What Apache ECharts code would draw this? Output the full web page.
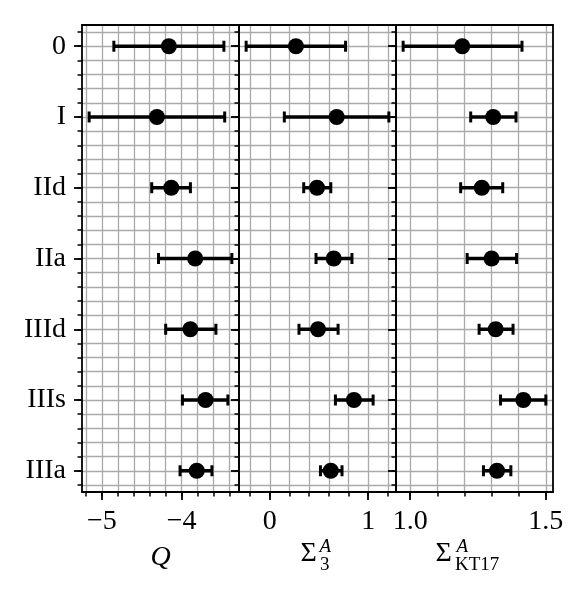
<!DOCTYPE html>
<html><head><meta charset="utf-8">
<script src="https://cdn.jsdelivr.net/npm/echarts@6/dist/echarts.min.js"></script>
<style>html,body{margin:0;padding:0;background:#fff}#c{width:582px;height:594px}</style>
</head><body><div id="c"></div>
<script>
// ---- data ----
const categories = ['0', 'I', 'IId', 'IIa', 'IIId', 'IIIs', 'IIIa'];

const qValue = [-4.16, -4.31, -4.13, -3.83, -3.89, -3.70, -3.81];
const qLow   = [-4.85, -5.16, -4.375, -4.29, -4.20, -3.99, -4.02];
const qHigh  = [-3.47, -3.46, -3.89, -3.37, -3.57, -3.42, -3.62];

const s3Value = [0.266, 0.68, 0.48, 0.65, 0.49, 0.855, 0.62];
const s3Low   = [-0.24, 0.148, 0.345, 0.47, 0.297, 0.667, 0.515];
const s3High  = [0.77, 1.21, 0.62, 0.835, 0.694, 1.05, 0.734];

const kValue = [1.192, 1.306, 1.264, 1.30, 1.315, 1.417, 1.32];
const kLow   = [0.974, 1.223, 1.186, 1.21, 1.254, 1.333, 1.27];
const kHigh  = [1.412, 1.39, 1.341, 1.392, 1.379, 1.50, 1.371];

const qTicks = [-5, -4];      const qTickLabels = ['\u22125', '\u22124'];
const s3Ticks = [0, 1];       const s3TickLabels = ['0', '1'];
const kTicks = [1.0, 1.5];    const kTickLabels = ['1.0', '1.5'];
const qMinorStep = 0.2, s3MinorStep = 0.2, kMinorStep = 0.1, yMinorStep = 0.2;

// ---- helpers ----
function padRange(lo, hi) {
  const mn = Math.min(...lo), mx = Math.max(...hi);
  const m = (mx - mn) * 0.05;
  return [mn - m, mx + m];
}
function steps(a, b, step) {
  const out = [];
  for (let k = Math.ceil(a / step - 1e-9); k <= Math.floor(b / step + 1e-9); k++) {
    out.push(Math.round(k * step * 1e6) / 1e6);
  }
  return out;
}

const FONT = '"Liberation Serif", "Times New Roman", serif';
const GRID_TOP = 25, GRID_H = 467, GRID_W = 157;
const lefts = [82, 239, 396];
const yMin = -0.3, yMax = categories.length - 1 + 0.3;
const yMajor = categories.map((c, i) => i);
const yMinor = steps(yMin, yMax, yMinorStep);

const panels = [
  {v: qValue, lo: qLow, hi: qHigh, ticks: qTicks, labels: qTickLabels, minor: qMinorStep},
  {v: s3Value, lo: s3Low, hi: s3High, ticks: s3Ticks, labels: s3TickLabels, minor: s3MinorStep},
  {v: kValue, lo: kLow, hi: kHigh, ticks: kTicks, labels: kTickLabels, minor: kMinorStep}
];

const grids = [], xAxes = [], yAxes = [], series = [];
const black = '#000';
const gridColor = '#aaaaaa';
panels.forEach((p, g) => {
  grids.push({left: lefts[g], top: GRID_TOP, width: GRID_W, height: GRID_H, show: false, containLabel: false});
  const [xmin, xmax] = padRange(p.lo, p.hi);
  const xMinorVals = steps(xmin, xmax, p.minor);
  const xMainIdx = xAxes.length;
  xAxes.push({
    gridIndex: g, type: 'value', min: xmin, max: xmax, position: 'bottom', z: 4,
    axisLine: {show: true, onZero: false, lineStyle: {color: black, width: 1.8}},
    axisTick: {show: true, customValues: p.ticks, length: 8, inside: false, lineStyle: {color: black, width: 1.8}},
    axisLabel: {show: true, customValues: p.ticks, margin: 16, color: black, fontFamily: FONT, fontSize: 28,
      formatter: v => { const i = p.ticks.findIndex(t => Math.abs(t - v) < 1e-6); return i >= 0 ? p.labels[i] : ''; }},
    splitLine: {show: false}
  });
  xAxes.push({
    gridIndex: g, type: 'value', min: xmin, max: xmax, position: 'bottom', z: 1,
    axisLine: {show: false, onZero: false},
    axisTick: {show: true, customValues: xMinorVals, length: 4.5, lineStyle: {color: black, width: 1.5}},
    axisLabel: {show: false},
    splitLine: {show: true, lineStyle: {color: gridColor, width: 1.3}}
  });
  xAxes.push({
    gridIndex: g, type: 'value', min: xmin, max: xmax, position: 'top', z: 4,
    axisLine: {show: true, onZero: false, lineStyle: {color: black, width: 1.8}},
    axisTick: {show: false}, axisLabel: {show: false}, splitLine: {show: false}
  });
  const yMainIdx = yAxes.length;
  yAxes.push({
    gridIndex: g, type: 'value', min: yMin, max: yMax, inverse: true, position: 'left', z: 4,
    axisLine: {show: true, onZero: false, lineStyle: {color: black, width: 1.8}},
    axisTick: {show: true, customValues: yMajor, length: 8, lineStyle: {color: black, width: 1.8}},
    axisLabel: {show: g === 0, customValues: yMajor, margin: 16, color: black, fontFamily: FONT, fontSize: 28,
      formatter: v => categories[Math.round(v)]},
    splitLine: {show: false}
  });
  yAxes.push({
    gridIndex: g, type: 'value', min: yMin, max: yMax, inverse: true, position: 'left', z: 1,
    axisLine: {show: false, onZero: false},
    axisTick: {show: true, customValues: yMinor, length: 4.5, lineStyle: {color: black, width: 1.5}},
    axisLabel: {show: false},
    splitLine: {show: true, lineStyle: {color: gridColor, width: 1.3}}
  });
  yAxes.push({
    gridIndex: g, type: 'value', min: yMin, max: yMax, inverse: true, position: 'right', z: 4,
    axisLine: {show: true, onZero: false, lineStyle: {color: black, width: 1.8}},
    axisTick: {show: false}, axisLabel: {show: false}, splitLine: {show: false}
  });

  series.push({
    type: 'custom', xAxisIndex: xMainIdx, yAxisIndex: yMainIdx, z: 5,
    data: categories.map((c, i) => [i, p.lo[i], p.hi[i]]),
    encode: {x: [1, 2], y: 0},
    renderItem: (params, api) => {
      const y = api.value(0);
      const a = api.coord([api.value(1), y]);
      const b = api.coord([api.value(2), y]);
      const h = 5.5;
      return {type: 'group', children: [
        {type: 'line', shape: {x1: a[0], y1: a[1], x2: b[0], y2: b[1]}, style: {stroke: black, lineWidth: 3.5}},
        {type: 'line', shape: {x1: a[0], y1: a[1] - h, x2: a[0], y2: a[1] + h}, style: {stroke: black, lineWidth: 3}},
        {type: 'line', shape: {x1: b[0], y1: b[1] - h, x2: b[0], y2: b[1] + h}, style: {stroke: black, lineWidth: 3}}
      ]};
    }
  });
  series.push({
    type: 'scatter', xAxisIndex: xMainIdx, yAxisIndex: yMainIdx, z: 6,
    symbol: 'circle', symbolSize: 16, itemStyle: {color: black, opacity: 1},
    data: categories.map((c, i) => [p.v[i], i])
  });
});

const cx = lefts.map(l => l + GRID_W / 2);
const nameY = 553.5;
const graphic = [
  {type: 'text', x: cx[0], y: 558, style: {text: 'Q', font: 'italic 28px ' + FONT, fill: black, align: 'center', verticalAlign: 'middle'}},
  {type: 'text', x: cx[1] - 17, y: nameY, style: {text: '\u03A3', font: '28px ' + FONT, fill: black, align: 'left', verticalAlign: 'middle'}},
  {type: 'text', x: cx[1] + 2, y: 546.5, style: {text: 'A', font: 'italic 19px ' + FONT, fill: black, align: 'left', verticalAlign: 'middle'}},
  {type: 'text', x: cx[1] + 2.5, y: 565, style: {text: '3', font: '19px ' + FONT, fill: black, align: 'left', verticalAlign: 'middle'}},
  {type: 'text', x: cx[2] - 39, y: nameY, style: {text: '\u03A3', font: '28px ' + FONT, fill: black, align: 'left', verticalAlign: 'middle'}},
  {type: 'text', x: cx[2] - 18, y: 546.5, style: {text: 'A', font: 'italic 19px ' + FONT, fill: black, align: 'left', verticalAlign: 'middle'}},
  {type: 'text', x: cx[2] - 19.5, y: 565, style: {text: 'KT17', font: '19px ' + FONT, fill: black, align: 'left', verticalAlign: 'middle'}}
];

const chart = echarts.init(document.getElementById('c'), null, {renderer: 'canvas'});
chart.setOption({
  animation: false,
  backgroundColor: '#fff',
  grid: grids, xAxis: xAxes, yAxis: yAxes, series: series, graphic: graphic
});
</script>
</body></html>
